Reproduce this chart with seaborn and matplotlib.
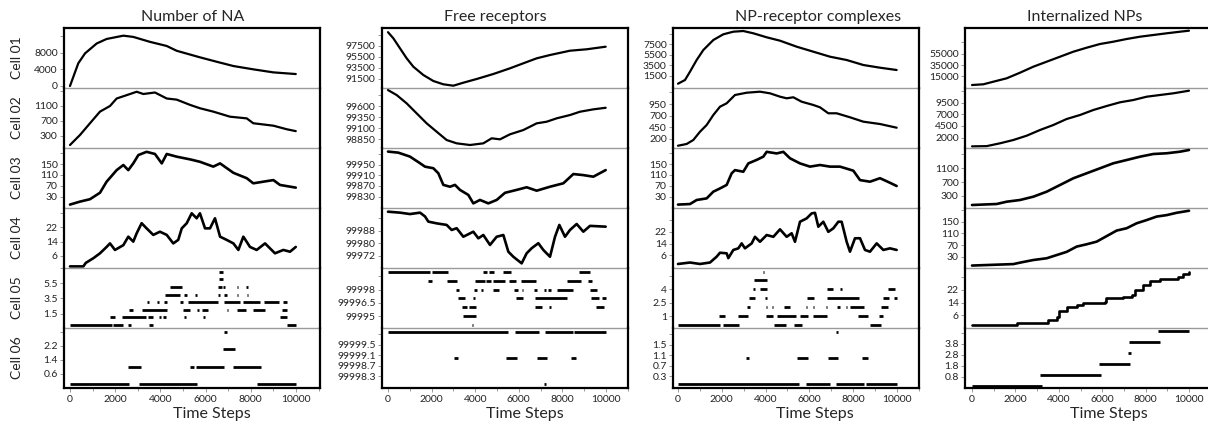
import matplotlib
matplotlib.use("Agg")
import matplotlib.pyplot as plt
import matplotlib.transforms as mtransforms
from matplotlib.ticker import MultipleLocator
import seaborn as sns

# ---------------- data ----------------
COLUMN_TITLES = ["Number of NA", "Free receptors", "NP-receptor complexes", "Internalized NPs"]
ROW_LABELS = ["Cell 01", "Cell 02", "Cell 03", "Cell 04", "Cell 05", "Cell 06"]
X_TICKS = [0, 2000, 4000, 6000, 8000, 10000]
X_LABEL = "Time Steps"

# Number of NA
NA_C1_T = [0, 150, 367, 664, 1180, 1620, 2360, 2800, 3540, 4280, 4720, 5750, 6490, 7230, 8110, 9000, 9990]
NA_C1_V = [0, 2250, 5500, 7900, 10300, 11400, 12200, 11900, 10700, 9700, 8540, 6950, 5880, 4840, 4040, 3300, 2900]
NA_C2_T = [0, 442, 885, 1327, 1770, 2065, 2510, 2950, 3245, 3760, 4280, 4720, 5310, 5750, 6340, 7080, 7820, 8110, 9000, 9590, 9990]
NA_C2_V = [60, 327, 640, 950, 1100, 1300, 1390, 1480, 1420, 1460, 1300, 1270, 1130, 1040, 950, 815, 770, 640, 575, 480, 430]
NA_C3_T = [0, 442, 885, 1327, 1620, 2065, 2360, 2580, 2800, 3025, 3390, 3760, 4060, 4280, 4720, 5310, 5750, 6340, 6640, 7230, 7820, 8110, 8550, 9000, 9290, 9990]
NA_C3_V = [0, 11, 20, 44, 85, 128, 147, 128, 153, 184, 196, 188, 153, 188, 178, 168, 159, 141, 153, 118, 98, 79, 85, 91, 73, 63]
NA_C4_T = [0, 590, 700, 1030, 1327, 1620, 1770, 1990, 2360, 2580, 2800, 2950, 3170, 3390, 3685, 3980, 4280, 4570, 4790, 4945, 5165, 5385, 5605, 5750, 5975, 6195, 6415, 6640, 6930, 7230, 7450, 7670, 7965, 8260, 8630, 9070, 9440, 9735, 9990]
NA_C4_V = [0, 0, 2, 4.6, 7.4, 11, 13, 9.3, 12, 16.8, 14, 18.7, 24.4, 21.5, 17.8, 19.6, 17.8, 13, 15, 21.5, 24.4, 30, 27.2, 30, 21.5, 21.5, 27.2, 16.8, 15, 13, 9.3, 16.8, 11, 9.3, 13, 7.4, 9.3, 8.3, 11]
NA_C5_LEVEL = [0, 0, 0, 0, 0,
               1, 1, 1, 1, 1, 1, 1, 1,
               2, 2, 2, 2, 2, 2, 2, 2, 2,
               3, 3, 3, 3, 3, 3, 3, 3, 3,
               4, 4, 4, 4, 4, 4, 4,
               5, 5, 5, 5, 5,
               6, 7]
NA_C5_START = [0, 1917, 2581, 3510, 9587,
               1770, 2316, 3466, 3953, 4130, 5059, 5900, 9292,
               2625, 3171, 4985, 5605, 5826, 6932, 7375, 8112, 9366,
               3392, 3835, 4159, 4867, 5236, 6814, 7670, 8599, 9440,
               4204, 5059, 5531, 6563, 6814, 7375, 7817,
               4425, 6563, 6785, 7375, 7788,
               6608, 6608]
NA_C5_END = [1844, 2360, 2684, 3658, 9985,
             1991, 3348, 3687, 4012, 4233, 5133, 5973, 9617,
             2802, 4277, 5310, 5723, 6121, 7006, 7788, 8628, 9587,
             3510, 3953, 4277, 4985, 6563, 7522, 8407, 9263, 9587,
             4867, 5162, 5605, 6637, 6932, 7448, 7891,
             4941, 6711, 6858, 7448, 7861,
             6755, 6755]
NA_C6_LEVEL = [0, 0, 0, 1, 1, 1, 1, 2, 3]
NA_C6_START = [0, 3068, 8260, 2581, 5310, 5575, 7198, 6755, 6829]
NA_C6_END = [2625, 5634, 9985, 3127, 5487, 6829, 8437, 7300, 6932]

# Free receptors
FR_C1_T = [0, 245, 550, 856, 1162, 1621, 2080, 2538, 2997, 3456, 4067, 4832, 5596, 6208, 6820, 7431, 8349, 9113, 9985]
FR_C1_V = [100000, 98877, 97040, 95207, 93665, 92142, 91041, 90436, 90180, 90730, 91408, 92325, 93370, 94290, 95200, 95810, 96600, 96860, 97335]
FR_C2_T = [0, 398, 856, 1315, 1774, 2232, 2691, 3150, 3761, 4373, 4755, 5138, 5596, 6208, 6820, 7278, 7737, 8349, 8807, 9419, 9985]
FR_C2_V = [99962, 99849, 99660, 99433, 99206, 99016, 98827, 98752, 98714, 98752, 98866, 98843, 98957, 99054, 99206, 99243, 99320, 99395, 99470, 99524, 99560]
FR_C3_T = [0, 474, 1009, 1468, 1697, 2080, 2309, 2538, 2844, 3073, 3303, 3685, 3914, 4220, 4602, 4985, 5367, 5902, 6361, 6820, 7431, 8043, 8502, 8960, 9419, 9985]
FR_C3_V = [100000, 99996, 99981, 99956, 99943, 99937, 99918, 99874, 99867, 99874, 99855, 99836, 99804, 99817, 99804, 99817, 99844, 99855, 99865, 99852, 99867, 99880, 99915, 99911, 99905, 99930]
FR_C4_T = [0, 550, 1009, 1468, 1697, 1850, 2232, 2691, 2920, 3150, 3456, 3914, 4144, 4373, 4679, 4985, 5291, 5520, 5749, 6131, 6361, 6590, 6896, 7125, 7431, 7661, 7859, 8119, 8349, 8654, 8960, 9266, 9985]
FR_C4_V = [100000, 99999.4, 99998.5, 99999.4, 99997, 99993.7, 99992.6, 99991.6, 99988.4, 99989.5, 99984.1, 99987.3, 99983.1, 99985.2, 99978.9, 99984.1, 99985.2, 99974.6, 99971.4, 99967.2, 99973.6, 99976.8, 99980, 99975.7, 99971.4, 99984.1, 99991.6, 99984.1, 99988.4, 99992.2, 99987.3, 99991, 99990.5]
FR_C5_LEVEL = [100000] * 6 + [99999] * 9 + [99998] * 11 + [99997] * 6 + [99996] * 5 + [99995, 99994]
FR_C5_START = [0, 2003, 4373, 4633, 5291, 8777,
               1850, 2691, 3991, 4495, 4801, 5550, 6101, 8196, 9190,
               3104, 3945, 4266, 4832, 5780, 6147, 6713, 7156, 7355, 7737, 9266,
               3226, 3914, 5872, 6758, 9312, 9817,
               3410, 3731, 6758, 7401, 9541,
               3456, 3869]
FR_C5_END = [1927, 2768, 4526, 4878, 5627, 9266,
             2034, 3180, 4450, 4725, 5367, 5872, 6789, 8838, 9343,
             3272, 4067, 4343, 5092, 5979, 6193, 6820, 7263, 7462, 8502, 9602,
             3532, 3991, 6177, 8196, 9679, 9985,
             3609, 4021, 7049, 7492, 9908,
             4021, 3914]
FR_C6_LEVEL = [100000, 100000, 100000, 100000, 99999, 99999, 99999, 99999, 99998]
FR_C6_START = [0, 5826, 7202, 8532, 3028, 5413, 6850, 8394, 7171]
FR_C6_END = [5520, 6927, 8502, 9985, 3196, 5902, 7278, 8624, 7232]

# NP-receptor complexes
NP_C1_T = [0, 320, 548, 852, 1157, 1613, 2070, 2527, 2983, 3440, 4049, 4658, 5419, 6180, 6941, 7702, 8463, 9224, 9985]
NP_C1_V = [0, 700, 2280, 4500, 6400, 8300, 9385, 9880, 10010, 9575, 8815, 8170, 7030, 6080, 5130, 4500, 3550, 3040, 2600]
NP_C2_T = [0, 396, 700, 1005, 1309, 1613, 1918, 2222, 2603, 3135, 3744, 4201, 4658, 4962, 5266, 5647, 6180, 6484, 6865, 7245, 7854, 8463, 9224, 9985]
NP_C2_V = [56, 93, 179, 356, 500, 714, 892, 965, 1143, 1192, 1214, 1179, 1107, 1072, 1094, 999, 929, 879, 751, 751, 665, 571, 521, 442]
NP_C3_T = [0, 548, 852, 1309, 1613, 1918, 2222, 2450, 2603, 2983, 3212, 3592, 3896, 4049, 4505, 4810, 5114, 5571, 6027, 6484, 6941, 7397, 8006, 8311, 8767, 9224, 9680, 9985]
NP_C3_V = [0, 2, 17, 23, 48, 60, 73, 116, 128, 122, 153, 166, 178, 196, 190, 196, 172, 153, 141, 147, 141, 141, 126, 91, 85, 98, 81, 69]
NP_C4_T = [0, 548, 1005, 1461, 1766, 1918, 2222, 2298, 2527, 2755, 2907, 3059, 3364, 3516, 3744, 4049, 4353, 4658, 4962, 5190, 5342, 5571, 5875, 6103, 6256, 6408, 6636, 6865, 7093, 7321, 7473, 7702, 7854, 8082, 8311, 8539, 8767, 9072, 9376, 9680, 9985]
NP_C4_V = [0, 1, 0, 1, 5, 7.7, 7.3, 4, 9.6, 10.7, 14.1, 10.7, 14.1, 18.6, 15.2, 19.8, 18.6, 23.7, 18.6, 21, 15.2, 28.9, 31.2, 34.6, 35, 25.5, 28.9, 22, 24.4, 28.9, 28.9, 15.2, 8.4, 17.6, 17.6, 9.6, 8.4, 14.1, 9.6, 10.7, 9.6]
NP_C5_LEVEL = [0] * 5 + [1] * 8 + [2] * 11 + [3] * 6 + [4] * 5 + [5, 6]
NP_C5_START = [0, 2070, 4399, 5297, 8767,
               1887, 2755, 4018, 4505, 5571, 6149, 8234, 9193,
               3166, 4003, 4277, 4840, 5845, 6149, 6743, 7275, 7656, 7854, 9269,
               3257, 3988, 5906, 6788, 9345, 9863,
               3440, 3744, 6788, 7397, 9604,
               3486, 3896]
NP_C5_END = [1918, 2801, 4916, 5647, 9254,
             2146, 3212, 4353, 5388, 5951, 6788, 8691, 9345,
             3288, 4079, 4353, 5114, 5906, 6225, 6819, 7397, 7702, 8508, 9604,
             3516, 4049, 6225, 8265, 9650, 9985,
             3516, 4049, 7062, 7504, 9909,
             4049, 3942]
NP_C6_LEVEL = [0, 0, 0, 0, 1, 1, 1, 1, 2]
NP_C6_START = [0, 5845, 7215, 8569, 3105, 5419, 6834, 8387, 7215]
NP_C6_END = [5525, 6941, 8493, 9985, 3227, 5921, 7321, 8691, 7291]

# Internalized NPs
IN_C1_T = [0, 522, 983, 1598, 2212, 2826, 3441, 4055, 4670, 5284, 5899, 6513, 7127, 7742, 8356, 8971, 9585, 10000]
IN_C1_V = [0, 1230, 5810, 11800, 21670, 32250, 41050, 49860, 58670, 65720, 72240, 76300, 81050, 85100, 88100, 91100, 93900, 95700]
IN_C2_T = [0, 676, 1290, 1905, 2519, 3134, 3748, 4363, 4977, 5591, 6206, 6820, 7435, 8049, 8664, 9278, 10000]
IN_C2_V = [100, 150, 757, 1464, 2386, 3607, 4679, 5965, 6822, 7893, 8750, 9543, 10036, 10743, 11108, 11472, 12029]
IN_C3_T = [0, 1137, 1598, 2212, 2826, 3441, 4055, 4670, 5284, 5899, 6513, 7127, 7742, 8356, 8971, 9585, 10000]
IN_C3_V = [33, 62, 129, 178, 274, 419, 613, 808, 953, 1098, 1243, 1338, 1434, 1512, 1533, 1579, 1628]
IN_C4_T = [0, 1905, 2212, 2826, 3441, 3902, 4363, 4823, 5284, 5745, 6206, 6667, 7127, 7588, 8049, 8510, 8971, 9432, 10000]
IN_C4_V = [0, 5, 10, 19, 25, 36, 47, 65, 73, 82, 101, 120, 128, 145, 156, 168, 173, 181, 188]
IN_C5_T = [0, 1982, 2058, 3441, 3518, 3825, 3933, 4025, 4363, 4823, 5131, 6129, 6175, 6974, 7358, 7512, 7896, 8203, 8664, 9508, 9739, 10000]
IN_C5_V = [0, 0, 1, 1, 3, 3, 5, 9, 11, 12.5, 14, 14.5, 17, 17.7, 19, 22, 25, 27.5, 29, 30, 32, 33]
IN_C6_LEVEL = [0, 1, 2, 3, 4, 5]
IN_C6_START = [0, 3134, 5853, 7189, 7235, 8571]
IN_C6_END = [3210, 5929, 7281, 7312, 8664, 10000]

# y tick values and their printed labels (top tick unlabeled)
YTICKS = [
    [[0, 4000, 8000, 12000], [300, 700, 1100, 1500], [30, 70, 110, 150, 190],
     [6, 14, 22, 30], [1.5, 3.5, 5.5, 7.5], [0.6, 1.4, 2.2, 3.0]],
    [[91500, 93500, 95500, 97500, 99500], [98850, 99100, 99350, 99600, 99850],
     [99830, 99870, 99910, 99950, 99990], [99972, 99980, 99988, 99996],
     [99995, 99996.5, 99998, 99999.5], [99998.3, 99998.7, 99999.1, 99999.5, 99999.9]],
    [[1500, 3500, 5500, 7500, 9500], [200, 450, 700, 950, 1200], [30, 70, 110, 150, 190],
     [6, 14, 22, 30], [1, 2.5, 4, 5.5], [0.3, 0.7, 1.1, 1.5, 1.9]],
    [[15000, 35000, 55000, 75000], [2000, 4500, 7000, 9500, 12000], [300, 700, 1100, 1500],
     [30, 70, 110, 150, 190], [6, 14, 22, 30], [0.8, 1.8, 2.8, 3.8, 4.8]],
]
YLABELS = [
    [["0", "4000", "8000"], ["300", "700", "1100"], ["30", "70", "110", "150"],
     ["6", "14", "22"], ["1.5", "3.5", "5.5"], ["0.6", "1.4", "2.2"]],
    [["91500", "93500", "95500", "97500"], ["98850", "99100", "99350", "99600"],
     ["99830", "99870", "99910", "99950"], ["99972", "99980", "99988"],
     ["99995", "99996.5", "99998"], ["99998.3", "99998.7", "99999.1", "99999.5"]],
    [["1500", "3500", "5500", "7500"], ["200", "450", "700", "950"], ["30", "70", "110", "150"],
     ["6", "14", "22"], ["1", "2.5", "4"], ["0.3", "0.7", "1.1", "1.5"]],
    [["15000", "35000", "55000"], ["2000", "4500", "7000", "9500"], ["300", "700", "1100"],
     ["30", "70", "110", "150"], ["6", "14", "22"], ["0.8", "1.8", "2.8", "3.8"]],
]

# ---------------- layout / style ----------------
YLIMS = [
    [(-485, 14060), (-20, 1580), (-12.7, 210.2), (-0.9, 33.0), (-0.39, 7.5), (-0.21, 3.22)],
    [(89757, 100766), (98646, 100009), (99786.5, 100013.6), (99964.25, 100002.35),
     (99993.67, 100000.42), (99997.86, 100000.14)],
    [(-818, 10582), (7, 1293), (-12.7, 210.2), (-2.75, 38.3), (-0.34, 6.4), (-0.14, 2.14)],
    [(-5286, 100434), (-250, 12608), (-54, 1686), (-8.4, 197.4), (-1.9, 35.6), (-0.21, 5.25)],
]
XLIMS = [(-265, 11062), (-275, 11009), (-228, 11005), (-323, 11014)]
COL_LEFT = [64, 382, 673, 965]
COL_WIDTH = [256, 246, 246, 246]
TITLE_X = [0.504, 0.459, 0.589, 0.488]
XLABEL_X = [0.578, 0.581, 0.577, 0.585]
TOP, ROW_H = 28, 60
W, H = 1208, 428
SEP_COLOR = "#9a9a9a"

sns.set_theme(style="ticks")
plt.rcParams["font.family"] = ["Lato", "DejaVu Sans"]

fig = plt.figure(figsize=(W / 100, H / 100), dpi=100)
fig.patch.set_facecolor("white")

lines = {
    0: [(NA_C1_T, NA_C1_V), (NA_C2_T, NA_C2_V), (NA_C3_T, NA_C3_V), (NA_C4_T, NA_C4_V)],
    1: [(FR_C1_T, FR_C1_V), (FR_C2_T, FR_C2_V), (FR_C3_T, FR_C3_V), (FR_C4_T, FR_C4_V)],
    2: [(NP_C1_T, NP_C1_V), (NP_C2_T, NP_C2_V), (NP_C3_T, NP_C3_V), (NP_C4_T, NP_C4_V)],
    3: [(IN_C1_T, IN_C1_V), (IN_C2_T, IN_C2_V), (IN_C3_T, IN_C3_V), (IN_C4_T, IN_C4_V),
        (IN_C5_T, IN_C5_V)],
}
segs = {
    0: [(NA_C5_LEVEL, NA_C5_START, NA_C5_END), (NA_C6_LEVEL, NA_C6_START, NA_C6_END)],
    1: [(FR_C5_LEVEL, FR_C5_START, FR_C5_END), (FR_C6_LEVEL, FR_C6_START, FR_C6_END)],
    2: [(NP_C5_LEVEL, NP_C5_START, NP_C5_END), (NP_C6_LEVEL, NP_C6_START, NP_C6_END)],
    3: [(IN_C6_LEVEL, IN_C6_START, IN_C6_END)],
}

label_shift = mtransforms.ScaledTranslation(0, 2.0 / 100, fig.dpi_scale_trans)

for c in range(4):
    nline = len(lines[c])
    for r in range(6):
        bottom_px = TOP + ROW_H * (r + 1)
        ax = fig.add_axes([COL_LEFT[c] / W, 1 - bottom_px / H, COL_WIDTH[c] / W, ROW_H / H])
        ax.patch.set_visible(False)
        if r < nline:
            t, v = lines[c][r]
            lw = 1.9 if r in (2, 3, 4) else 1.6
            sns.lineplot(x=t, y=v, ax=ax, color="black", linewidth=lw,
                         estimator=None, sort=False,
                         drawstyle="steps-post" if (c == 3 and r == 4) else "default")
        else:
            lv, st, en = segs[c][r - nline]
            ax.hlines(lv, st, en, color="black", linewidth=2.0)
        ax.set_xlim(*XLIMS[c])
        ax.set_ylim(*YLIMS[c][r])
        ticks = YTICKS[c][r]
        labs = YLABELS[c][r] + [""] * (len(ticks) - len(YLABELS[c][r]))
        ax.set_yticks(ticks)
        ax.set_yticklabels(labs)
        for lab in ax.get_yticklabels():
            lab.set_transform(lab.get_transform() + label_shift)
        ax.tick_params(axis="y", length=3, width=0.7, color=SEP_COLOR, labelsize=7.5,
                       pad=1.5, labelcolor="#222222")
        ax.set_xticks(X_TICKS)
        ax.xaxis.set_minor_locator(MultipleLocator(1000))
        ax.set_ylabel("")
        ax.set_xlabel("")
        for side in ("left", "right"):
            ax.spines[side].set_color("black")
            ax.spines[side].set_linewidth(1.6)
        ax.spines["top"].set_visible(r == 0)
        ax.spines["top"].set_color("black")
        ax.spines["top"].set_linewidth(1.6)
        if r < 5:
            ax.spines["bottom"].set_color(SEP_COLOR)
            ax.spines["bottom"].set_linewidth(1.0)
            ax.tick_params(axis="x", which="both", bottom=False, labelbottom=False)
        else:
            ax.spines["bottom"].set_color("black")
            ax.spines["bottom"].set_linewidth(1.6)
            ax.tick_params(axis="x", which="major", length=3, width=0.7, color=SEP_COLOR,
                           labelsize=7.5, pad=2, labelcolor="#222222")
            ax.tick_params(axis="x", which="minor", length=2.5, width=0.7, color=SEP_COLOR)
            ax.set_xticklabels([str(x) for x in X_TICKS])
            ax.set_xlabel(X_LABEL, fontsize=11.5, x=XLABEL_X[c], labelpad=2)
        if r == 0:
            ax.set_title(COLUMN_TITLES[c], fontsize=11.5, x=TITLE_X[c], pad=5)
        if c == 0:
            fig.text(17 / W, 1 - (TOP + ROW_H * r + ROW_H / 2) / H, ROW_LABELS[r],
                     rotation=90, ha="center", va="center", fontsize=10, color="#222222")

fig.savefig("out.png", dpi=100, facecolor="white")
